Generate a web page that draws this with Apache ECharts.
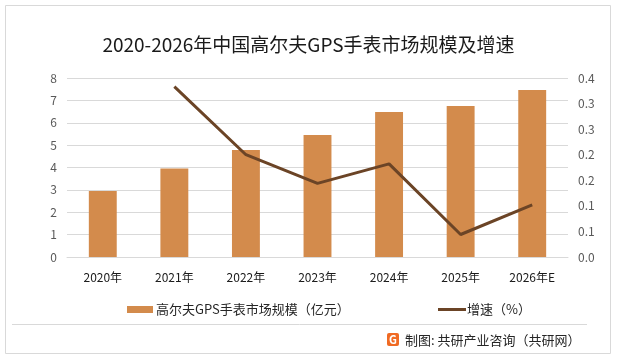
<!DOCTYPE html>
<html>
<head>
<meta charset="utf-8">
<script src="https://cdn.jsdelivr.net/npm/echarts@6/dist/echarts.min.js"></script>
<style>
html,body{margin:0;padding:0;background:#fff;}
#chart{width:617px;height:360px;}
</style>
</head>
<body>
<div id="chart"></div>
<script>
const categories = ['2020年','2021年','2022年','2023年','2024年','2025年','2026年E'];
const marketSize = [2.95, 3.96, 4.78, 5.45, 6.48, 6.75, 7.46];
const growth = [null, 0.333, 0.2, 0.144, 0.182, 0.044, 0.102];
const leftTicks = [0,1,2,3,4,5,6,7,8];
const rightTickLabels = ['0.0','0.1','0.1','0.2','0.2','0.3','0.3','0.4'];

const chart = echarts.init(document.getElementById('chart'));
const font = '"Noto Sans CJK SC", "Noto Sans", sans-serif';
chart.setOption({
  backgroundColor: '#fff',
  animation: false,
  title: {
    text: '2020-2026年中国高尔夫GPS手表市场规模及增速',
    left: 'center',
    top: 30,
    textStyle: {fontFamily: font, fontSize: 19, fontWeight: 'normal', color: '#1a1a1a'}
  },
  grid: {left: 67, right: 49, top: 78, bottom: 103},
  legend: [
    {
      data: ['高尔夫GPS手表市场规模（亿元）'],
      left: 122, top: 298,
      icon: 'rect', itemWidth: 26, itemHeight: 7, itemGap: 4,
      textStyle: {fontFamily: font, fontSize: 13, color: '#262626', padding: [0,0,0,-2]}
    },
    {
      data: ['增速（%）'],
      left: 433, top: 298,
      icon: 'rect', itemWidth: 28, itemHeight: 3,
      textStyle: {fontFamily: font, fontSize: 13, color: '#262626', padding: [0,0,0,-4]}
    }
  ],
  xAxis: {
    type: 'category',
    data: categories,
    axisLine: {lineStyle: {color: '#d9d9d9'}},
    axisTick: {show: false},
    axisLabel: {fontFamily: font, fontSize: 12, color: '#1a1a1a', margin: 14}
  },
  yAxis: [
    {
      type: 'value', min: leftTicks[0], max: leftTicks[leftTicks.length-1], interval: 1,
      axisLine: {show: false}, axisTick: {show: false},
      splitLine: {lineStyle: {color: '#d9d9d9'}},
      axisLabel: {fontFamily: font, fontSize: 12, color: '#595959', margin: 10}
    },
    {
      type: 'value', min: 0, max: 0.35, interval: 0.05,
      axisLine: {show: false}, axisTick: {show: false},
      splitLine: {show: false},
      axisLabel: {
        fontFamily: font, fontSize: 12, color: '#595959', margin: 10,
        formatter: v => rightTickLabels[Math.round(v / 0.05)]
      }
    }
  ],
  series: [
    {
      name: '高尔夫GPS手表市场规模（亿元）',
      type: 'bar',
      data: marketSize,
      barWidth: '39%',
      itemStyle: {color: '#D38B4C'}
    },
    {
      name: '增速（%）',
      type: 'line',
      yAxisIndex: 1,
      data: growth,
      symbol: 'none',
      lineStyle: {color: '#6B4426', width: 3},
      itemStyle: {color: '#6B4426'}
    }
  ],
  graphic: [
    {type: 'rect', shape: {x: 5.5, y: 5.5, width: 605, height: 348}, style: {fill: 'none', stroke: '#d9d9d9', lineWidth: 1}, silent: true},
    {type: 'line', shape: {x1: 12, y1: 324.5, x2: 587, y2: 324.5}, style: {stroke: '#d9d9d9', lineWidth: 1}, silent: true},
    {type: 'rect', shape: {x: 387, y: 333, width: 12, height: 13, r: 2}, style: {fill: '#F06A23'}},
    {type: 'text', x: 393, y: 339.5, style: {text: 'G', fill: '#fff', font: 'bold 11px ' + font, align: 'center', verticalAlign: 'middle'}},
    {type: 'text', x: 405, y: 340, style: {text: '制图: 共研产业咨询（共研网）', fill: '#262626', font: '13px ' + font, verticalAlign: 'middle'}}
  ]
});
</script>
</body>
</html>
